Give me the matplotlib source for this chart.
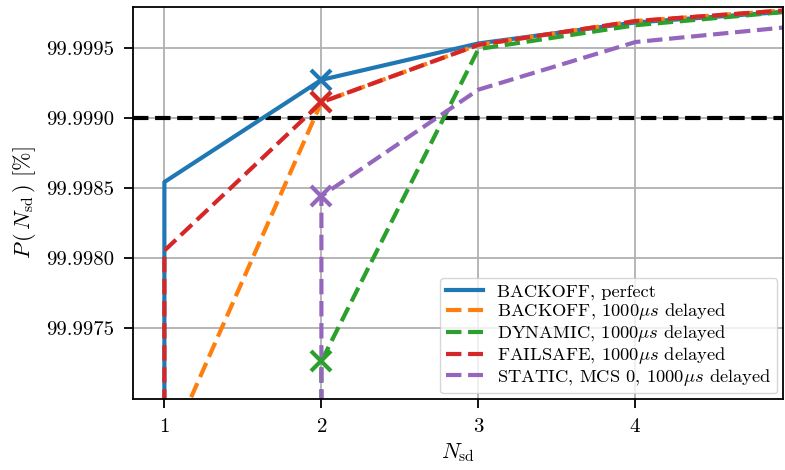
import numpy as np
import matplotlib
matplotlib.use("Agg")
import matplotlib.pyplot as plt

plt.rcParams.update({
    "font.family": "serif",
    "font.serif": ["cmr10"],
    "mathtext.fontset": "cm",
    "axes.formatter.use_mathtext": True,
    "axes.unicode_minus": False,
})

# Success probability P(N_sd) in percent versus number of scheduling decisions
n_backoff_perfect = [1, 1, 2, 3, 4, 5]
p_backoff_perfect = [99.9960, 99.99854, 99.99927, 99.99953, 99.99968, 99.99976]

n_backoff_delayed = [1, 2, 3, 4, 5]
p_backoff_delayed = [99.99657, 99.99911, 99.99952, 99.99969, 99.99977]

n_dynamic_delayed = [2, 2, 3, 4, 5]
p_dynamic_delayed = [99.9960, 99.99726, 99.99949, 99.99966, 99.99976]

n_failsafe_delayed = [1, 1, 2, 3, 4, 5]
p_failsafe_delayed = [99.9960, 99.99805, 99.99911, 99.99952, 99.99969, 99.99977]

n_static_delayed = [2, 2, 3, 4, 5]
p_static_delayed = [99.9960, 99.99844, 99.99920, 99.99954, 99.99965]

# Points highlighted at N_sd = 2
marker_n = 2
threshold = 99.999

y_ticks = [99.9975, 99.9980, 99.9985, 99.9990, 99.9995]
y_tick_labels = ["99.9975", "99.9980", "99.9985", "99.9990", "99.9995"]
x_ticks = [1, 2, 3, 4]

labels = [
    "BACKOFF, perfect",
    r"BACKOFF, 1000$\mu s$ delayed",
    r"DYNAMIC, 1000$\mu s$ delayed",
    r"FAILSAFE, 1000$\mu s$ delayed",
    r"STATIC, MCS 0, 1000$\mu s$ delayed",
]
colors = ["#1f77b4", "#ff7f0e", "#2ca02c", "#d62728", "#9467bd"]
series = [
    (n_backoff_perfect, p_backoff_perfect, "-"),
    (n_backoff_delayed, p_backoff_delayed, "--"),
    (n_dynamic_delayed, p_dynamic_delayed, "--"),
    (n_failsafe_delayed, p_failsafe_delayed, "--"),
    (n_static_delayed, p_static_delayed, "--"),
]

fig = plt.figure(figsize=(7.85, 4.70), dpi=100)
ax = fig.add_axes([0.1694, 0.151, 0.8281, 0.834])

ax.axhline(threshold, color="black", ls="--", lw=3, zorder=2)

for (n, p, ls), c, lab in zip(series, colors, labels):
    ax.plot(n, p, ls=ls, color=c, lw=3, label=lab, zorder=2.2)
    n_arr = np.asarray(n)
    p_arr = np.asarray(p)
    idx = np.where(n_arr == marker_n)[0]
    if len(idx):
        ax.plot(marker_n, p_arr[idx[-1]], marker="x", color=c, ms=15,
                mew=3, ls="none", zorder=2.3)

ax.set_xlim(0.8, 4.94)
ax.set_ylim(99.99699, 99.99979)
ax.set_xticks(x_ticks)
ax.set_yticks(y_ticks)
ax.set_yticklabels(y_tick_labels)
ax.tick_params(labelsize=15, length=6.5, width=1.3, pad=7)
ax.grid(True, color="#b0b0b0", lw=1.3, zorder=1)
ax.set_axisbelow(True)
for s in ax.spines.values():
    s.set_linewidth(1.3)

ax.set_xlabel(r"$N_\mathrm{sd}$", fontsize=16, labelpad=4)
ax.set_ylabel(r"$P\,(\,N_\mathrm{sd}\,)$ [%]", fontsize=16, labelpad=6)

ax.legend(loc="lower right", fontsize=13.3, framealpha=0.8, borderaxespad=0.3,
          labelspacing=0.05, borderpad=0.3, handletextpad=0.8)

fig.savefig("out.png", dpi=100)
